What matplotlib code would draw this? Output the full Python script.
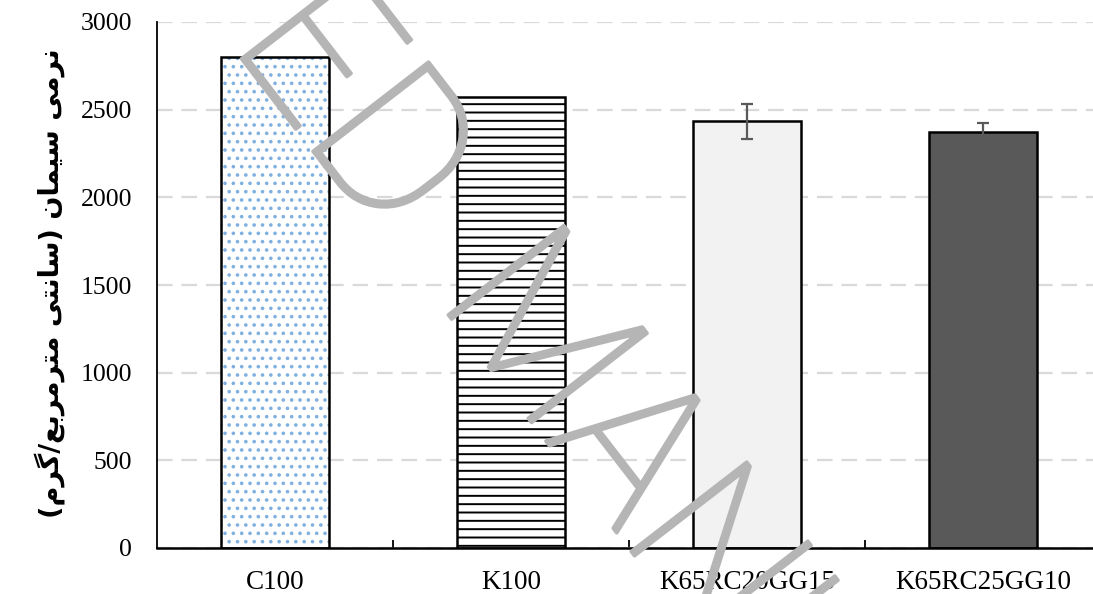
import numpy as np
import matplotlib
matplotlib.use("Agg")
import matplotlib.pyplot as plt
import matplotlib.patheffects as pe

# data
categories = ["C100", "K100", "K65RC20GG15", "K65RC25GG10"]
values = [2800, 2570, 2435, 2375]
errors = [0, 0, 100, 50]
yticks = [0, 500, 1000, 1500, 2000, 2500, 3000]
ylabel = "نرمی سیمان (سانتی مترمربع/گرم)"
watermark = ["ACCEPTED", "MANUSCRIPT"]

# minimal persian shaping (matplotlib does no contextual forms / rtl)
FORMS = {
    'ا': ('\uFE8D', '\uFE8E', None, None),
    'ب': ('\uFE8F', '\uFE90', '\uFE91', '\uFE92'),
    'ت': ('\uFE95', '\uFE96', '\uFE97', '\uFE98'),
    'ر': ('\uFEAD', '\uFEAE', None, None),
    'س': ('\uFEB1', '\uFEB2', '\uFEB3', '\uFEB4'),
    'ع': ('\uFEC9', '\uFECA', '\uFECB', '\uFECC'),
    'گ': ('\uFB92', '\uFB93', '\uFB94', '\uFB95'),
    'م': ('\uFEE1', '\uFEE2', '\uFEE3', '\uFEE4'),
    'ن': ('\uFEE5', '\uFEE6', '\uFEE7', '\uFEE8'),
    'ی': ('\uFBFC', '\uFBFD', '\uFBFE', '\uFBFF'),
}


def shape(s):
    out = []
    for i, c in enumerate(s):
        if c not in FORMS:
            out.append(c)
            continue
        f = FORMS[c]
        prev = s[i - 1] if i > 0 else ''
        nxt = s[i + 1] if i + 1 < len(s) else ''
        pj = prev in FORMS and FORMS[prev][2] is not None
        nj = nxt in FORMS and f[2] is not None
        if pj and nj:
            out.append(f[3])
        elif pj:
            out.append(f[1])
        elif nj:
            out.append(f[2])
        else:
            out.append(f[0])
    vis = ''.join(out)[::-1]
    return vis.translate(str.maketrans('()', ')('))


plt.rcParams['hatch.linewidth'] = 1.4

fig = plt.figure(figsize=(10.93, 5.94), dpi=100)
ax = fig.add_axes([157 / 1093, 1 - 548 / 594, 1 - 157 / 1093, (548 - 22) / 594])

x = np.arange(len(categories))
w = 0.46

# gridlines behind bars
ax.set_axisbelow(True)
ax.yaxis.grid(True, color='#d9d9d9', linewidth=1.6, dashes=(7, 4))

# C100: blue dots
ax.bar(x[0], values[0], w, color='white', edgecolor='#7fb0e0', linewidth=0, hatch='..', zorder=2)
# K100: horizontal lines
ax.bar(x[1], values[1], w, color='white', edgecolor='black', linewidth=0, hatch='--', zorder=2)
ax.bar(x[2], values[2], w, color='#f2f2f2', linewidth=0, zorder=2)
ax.bar(x[3], values[3], w, color='#595959', linewidth=0, zorder=2)
# outlines
ax.bar(x, values, w, fill=False, edgecolor='black', linewidth=1.8, zorder=3)

ax.errorbar(x[2:], values[2:], yerr=errors[2:], fmt='none', ecolor='#595959',
            elinewidth=1.6, capsize=4.5, capthick=1.6, zorder=4)

ax.set_ylim(0, 3000)
ax.set_xlim(-0.5, 3.466)
ax.set_yticks(yticks)
ax.set_xticks(x)
ax.set_xticklabels(categories)
ax.set_xticks([0.5, 1.5, 2.5], minor=True)
ax.tick_params(axis='x', which='major', length=0, pad=16)
ax.tick_params(axis='x', which='minor', direction='in', length=6, width=1.3)
ax.tick_params(axis='y', length=0, pad=18)
for lab in ax.get_xticklabels():
    lab.set_fontfamily('Liberation Serif')
    lab.set_fontsize(19.5)
for lab in ax.get_yticklabels():
    lab.set_fontfamily('Liberation Serif')
    lab.set_fontsize(18.5)

for s in ['top', 'right']:
    ax.spines[s].set_visible(False)
ax.spines['left'].set_linewidth(1.3)
ax.spines['bottom'].set_linewidth(1.8)

fig.text(50 / 1093, 1 - 283 / 594, shape(ylabel), rotation=90, ha='center', va='center',
         fontsize=19.5, fontweight='bold', family=['DejaVu Sans'])

# watermark
wm_style = dict(rotation=-52.3, rotation_mode='anchor', va='baseline', fontsize=148,
                family='Roboto', fontweight='light', color='#b5b5b5', zorder=10,
                path_effects=[pe.withStroke(linewidth=2.5, foreground='#b5b5b5')])
fig.text(383 / 1093, 1 - 242 / 594, watermark[0], ha='right', **wm_style)
fig.text(436 / 1093, 1 - 299 / 594, watermark[1], ha='left', **wm_style)

fig.savefig('out.png', dpi=100)
